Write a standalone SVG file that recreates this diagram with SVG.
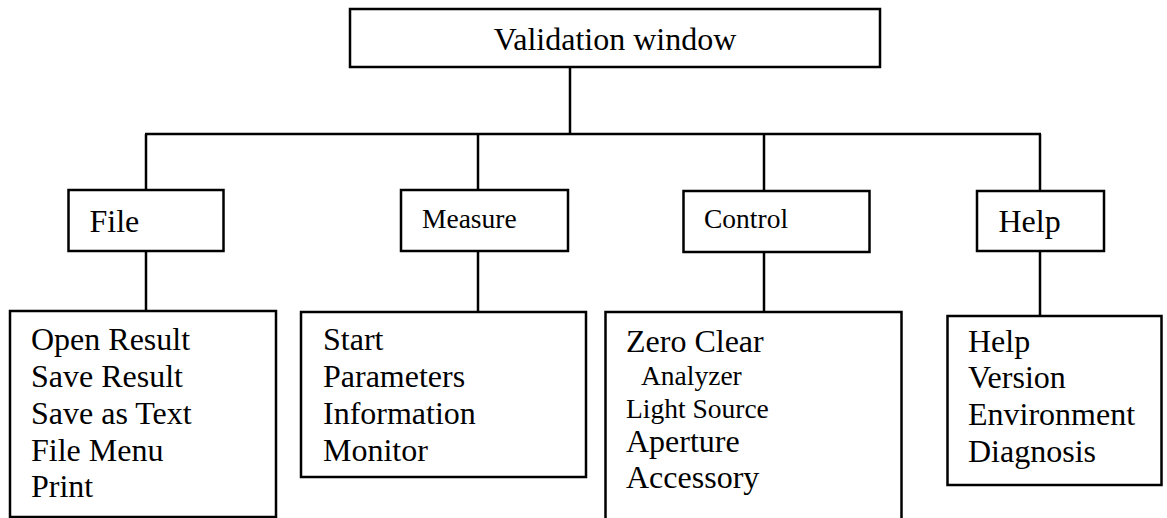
<svg xmlns="http://www.w3.org/2000/svg" width="1167" height="518" viewBox="0 0 1167 518">
<style>
.box{fill:#fff;stroke:#000;stroke-width:2.5}
.ln{stroke:#000;stroke-width:2.5;fill:none}
text{font-family:"Liberation Serif","Times New Roman",serif;fill:#000}
.big{font-size:32px}
.mid{font-size:27.5px}
</style>
<g id="connectors">
<line class="ln" x1="570" y1="67" x2="570" y2="134"/>
<line class="ln" x1="145" y1="134" x2="1041" y2="134"/>
<line class="ln" x1="146" y1="134" x2="146" y2="190"/>
<line class="ln" x1="478" y1="134" x2="478" y2="190"/>
<line class="ln" x1="764" y1="134" x2="764" y2="191"/>
<line class="ln" x1="1040" y1="134" x2="1040" y2="191"/>
<line class="ln" x1="146" y1="251" x2="146" y2="311"/>
<line class="ln" x1="478" y1="251" x2="478" y2="312"/>
<line class="ln" x1="764" y1="252" x2="764" y2="312"/>
<line class="ln" x1="1040" y1="251" x2="1040" y2="316"/>
</g>
<g id="validation">
<rect class="box" x="350" y="9" width="530" height="58"/>
<text class="big" x="615" y="50" text-anchor="middle">Validation window</text>
</g>
<g id="file">
<rect class="box" x="68.5" y="190" width="155" height="61"/>
<text class="big" x="89.5" y="232">File</text>
</g>
<g id="measure">
<rect class="box" x="401" y="190" width="167" height="61"/>
<text class="mid" x="422" y="228">Measure</text>
</g>
<g id="control">
<rect class="box" x="683.5" y="191" width="186" height="61"/>
<text class="mid" x="704" y="228">Control</text>
</g>
<g id="help">
<rect class="box" x="977" y="191" width="127" height="60"/>
<text class="big" x="998.5" y="232">Help</text>
</g>
<g id="file-items">
<rect class="box" x="10" y="311" width="266" height="206"/>
<text class="big" x="31" y="350">Open Result</text>
<text class="big" x="31" y="387">Save Result</text>
<text class="big" x="31" y="424">Save as Text</text>
<text class="big" x="31" y="461">File Menu</text>
<text class="big" x="31" y="497">Print</text>
</g>
<g id="measure-items">
<rect class="box" x="301" y="312" width="285" height="165"/>
<text class="big" x="323" y="350">Start</text>
<text class="big" x="323" y="387">Parameters</text>
<text class="big" x="323" y="424">Information</text>
<text class="big" x="323" y="461">Monitor</text>
</g>
<g id="control-items">
<rect class="box" x="605.5" y="312" width="296" height="220"/>
<text class="big" x="626" y="352">Zero Clear</text>
<text class="mid" x="641" y="385">Analyzer</text>
<text class="mid" x="626" y="418">Light Source</text>
<text class="big" x="626" y="452">Aperture</text>
<text class="big" x="626" y="488">Accessory</text>
</g>
<g id="help-items">
<rect class="box" x="947.5" y="316" width="214" height="169"/>
<text class="big" x="968" y="352">Help</text>
<text class="big" x="968" y="388">Version</text>
<text class="big" x="968" y="425">Environment</text>
<text class="big" x="968" y="462">Diagnosis</text>
</g>
</svg>
